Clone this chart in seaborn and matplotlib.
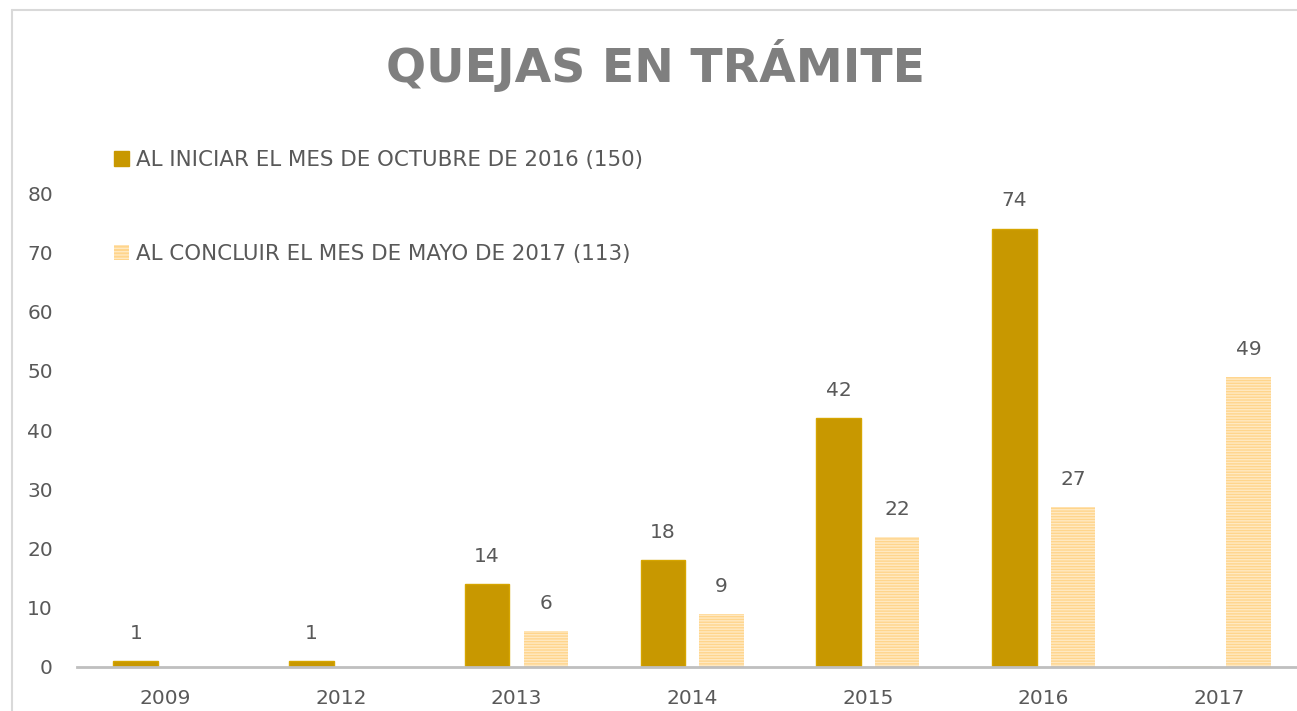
import matplotlib
matplotlib.use("Agg")
import matplotlib.pyplot as plt
import matplotlib.patches as mpatches
import seaborn as sns
import pandas as pd

years = ["2009", "2012", "2013", "2014", "2015", "2016", "2017"]
inicio = [1, 1, 14, 18, 42, 74, 0]
concluir = [0, 0, 6, 9, 22, 27, 49]
series = ["AL INICIAR EL MES DE OCTUBRE DE 2016 (150)",
          "AL CONCLUIR EL MES DE MAYO DE 2017 (113)"]

dark = "#C89800"
light = "#FFD58C"
stripe = "#FFE9C2"
text_col = "#595959"

df = pd.DataFrame({
    "year": years * 2,
    "value": inicio + concluir,
    "serie": [series[0]] * len(years) + [series[1]] * len(years),
})

sns.set_style("white")
plt.rcParams["font.family"] = ["DejaVu Sans"]
plt.rcParams["hatch.linewidth"] = 1.0

fig = plt.figure(figsize=(12.97, 7.11), dpi=100)
ax = fig.add_axes([77.2 / 1297, 44 / 711, 1230 / 1297, 474 / 711])

sns.barplot(data=df, x="year", y="value", hue="serie", order=years,
            hue_order=series, palette=[dark, light], saturation=1,
            width=0.667, gap=0.24, linewidth=0, legend=False, ax=ax)

for i, cont in enumerate(ax.containers):
    for bar in cont:
        if i == 1:
            bar.set_hatch("------")
            bar.set_edgecolor(stripe)
            bar.set_linewidth(0)
        else:
            bar.set_edgecolor("#D6A500")
            bar.set_linewidth(1)
        h = bar.get_height()
        if h > 0:
            ax.text(bar.get_x() + bar.get_width() / 2, h + 3.05, f"{int(h)}",
                    ha="center", va="bottom", fontsize=14.5, color=text_col,
                    clip_on=False)

ax.set_ylim(0, 80)
ax.set_yticks(range(0, 81, 10))
ax.set_xlabel("")
ax.set_ylabel("")
for s in ["top", "right", "left"]:
    ax.spines[s].set_visible(False)
ax.spines["bottom"].set_color("#BFBFBF")
ax.spines["bottom"].set_linewidth(2)
ax.tick_params(axis="both", length=0, labelsize=14.5, labelcolor=text_col)
ax.tick_params(axis="y", pad=17.5)
ax.tick_params(axis="x", pad=16)

handles = [mpatches.Patch(facecolor=dark, edgecolor=dark, label=series[0]),
           mpatches.Patch(facecolor=light, edgecolor=stripe, hatch="-----",
                          linewidth=0, label=series[1])]
leg = fig.legend(handles=handles, loc="upper left",
                 bbox_to_anchor=(108 / 1297, 1 - 144 / 711), frameon=False,
                 fontsize=15.4, labelcolor=text_col, handlelength=0.7,
                 handleheight=0.7, handletextpad=0.33, labelspacing=3.45,
                 borderaxespad=0, borderpad=0.3)

fig.text(656 / 1297, 1 - 65 / 711, "QUEJAS EN TRÁMITE", ha="center",
         va="center", fontsize=34, fontweight="bold", color="#7F7F7F")

# chart frame lines (left and top)
fig.add_artist(plt.Line2D([12 / 1297, 12 / 1297], [0, 1 - 10 / 711],
                          transform=fig.transFigure, color="#D9D9D9", lw=1.5))
fig.add_artist(plt.Line2D([12 / 1297, 1], [1 - 10 / 711, 1 - 10 / 711],
                          transform=fig.transFigure, color="#D9D9D9", lw=1.5))

fig.savefig("out.png", dpi=100)
